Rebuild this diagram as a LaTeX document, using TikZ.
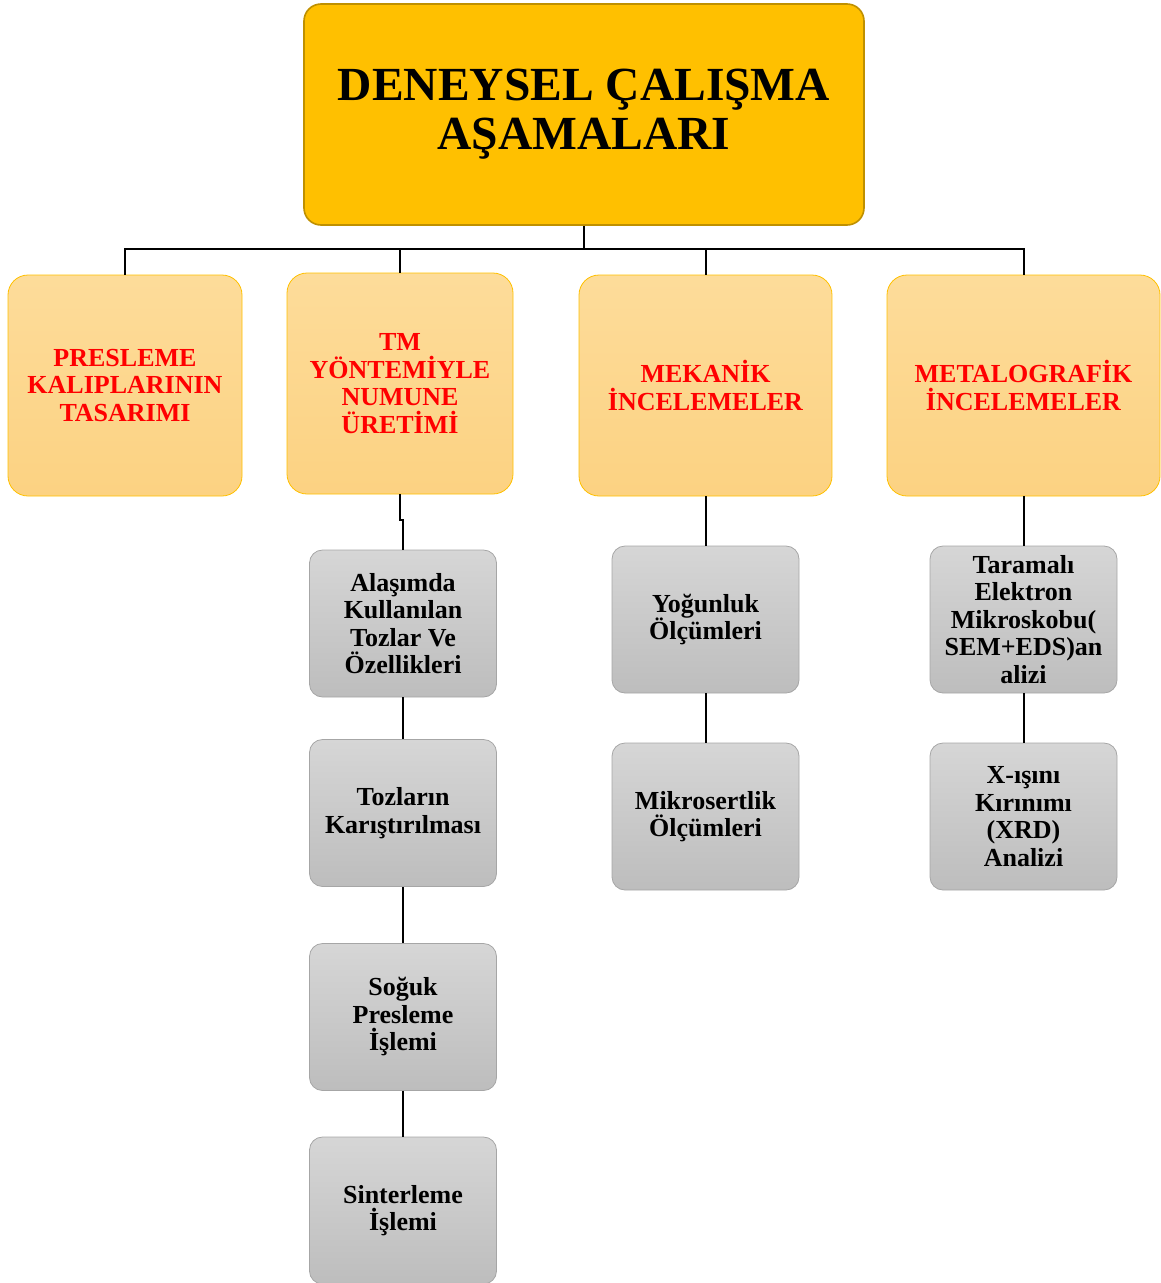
\documentclass[tikz,border=0pt]{standalone}
\usepackage{fontspec}
\setmainfont{Liberation Serif}
\definecolor{titlefill}{HTML}{FFC000}
\definecolor{titleedge}{HTML}{BF9000}
\definecolor{phasetop}{HTML}{FDDC9A}
\definecolor{phasebot}{HTML}{FCD282}
\definecolor{phaseedge}{HTML}{FFC000}
\definecolor{steptop}{HTML}{D6D6D6}
\definecolor{stepbot}{HTML}{BDBDBD}
\definecolor{stepedge}{HTML}{A6A6A6}
\begin{document}
\begin{tikzpicture}[x=1pt,y=-1pt,%
  titlebox/.style={draw=titleedge,fill=titlefill,rounded corners=17pt,line width=1.6pt,minimum width=560pt,minimum height=221pt,align=center,font=\fontsize{47.5}{49}\selectfont\bfseries},%
  phasebox/.style={draw=phaseedge,top color=phasetop,bottom color=phasebot,rounded corners=20pt,line width=0.8pt,minimum height=221pt,inner sep=2pt,align=center,text=red,font=\fontsize{26}{27.5}\selectfont\bfseries},%
  stepbox/.style={draw=stepedge,top color=steptop,bottom color=stepbot,rounded corners=13pt,line width=0.8pt,minimum width=187pt,minimum height=147pt,inner sep=2pt,align=center,font=\fontsize{26}{27.5}\selectfont\bfseries},%
  link/.style={line width=2pt}]%
\useasboundingbox (0,0) rectangle (1161,1283);%
%
\node[titlebox] (title) at (584,114.5) {DENEYSEL ÇALIŞMA\\AŞAMALARI};%
%
\node[phasebox,minimum width=234pt] (pres) at (125,385.5) {PRESLEME\\KALIPLARININ\\TASARIMI};%
\node[phasebox,minimum width=226pt] (tm) at (400,383.5) {TM\\YÖNTEMİYLE\\NUMUNE\\ÜRETİMİ};%
\node[phasebox,minimum width=253pt] (mek) at (705.5,385.5) {MEKANİK\\İNCELEMELER};%
\node[phasebox,minimum width=273pt] (met) at (1023.5,385.5) {METALOGRAFİK\\İNCELEMELER};%
%
\node[stepbox] (alas) at (403,623.5) {Alaşımda\\Kullanılan\\Tozlar Ve\\Özellikleri};%
\node[stepbox] (kar) at (403,813) {Tozların\\Karıştırılması};%
\node[stepbox] (sog) at (403,1017) {Soğuk\\Presleme\\İşlemi};%
\node[stepbox] (sint) at (403,1210.5) {Sinterleme\\İşlemi};%
%
\node[stepbox] (yog) at (705.5,619.5) {Yoğunluk\\Ölçümleri};%
\node[stepbox] (mikro) at (705.5,816.5) {Mikrosertlik\\Ölçümleri};%
%
\node[stepbox] (sem) at (1023.5,619.5) {Taramalı\\Elektron\\Mikroskobu(\\SEM+EDS)an\\alizi};%
\node[stepbox] (xrd) at (1023.5,816.5) {X-ışını\\Kırınımı\\(XRD)\\Analizi};%
%
\coordinate (bus) at (584,249);%
\draw[link] (title.south) -- (bus);%
\draw[link] (bus) -| (pres.north);%
\draw[link] (bus) -| (tm.north);%
\draw[link] (bus) -| (mek.north);%
\draw[link] (bus) -| (met.north);%
%
\draw[link] (tm.south) -- ++(0,26) -| (alas.north);%
\draw[link] (alas) -- (kar);%
\draw[link] (kar) -- (sog);%
\draw[link] (sog) -- (sint);%
\draw[link] (mek) -- (yog);%
\draw[link] (yog) -- (mikro);%
\draw[link] (met) -- (sem);%
\draw[link] (sem) -- (xrd);%
\end{tikzpicture}
\end{document}
